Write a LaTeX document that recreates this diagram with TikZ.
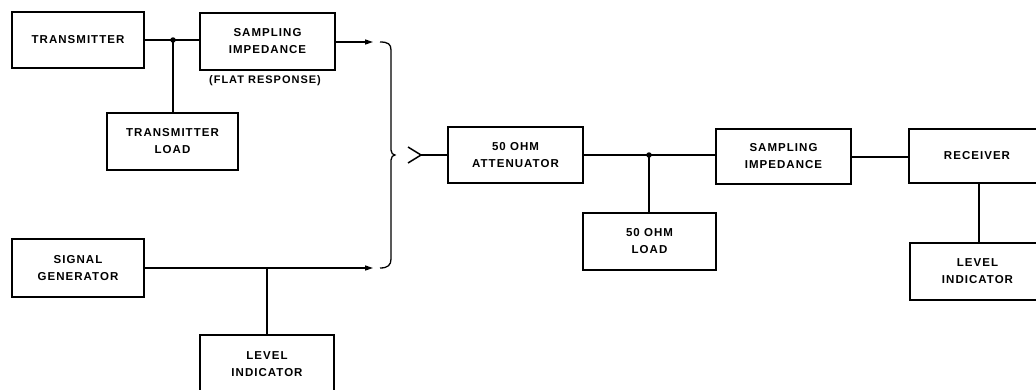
\documentclass[tikz,border=0pt]{standalone}
\usepackage{fontspec}
\setmainfont{Liberation Sans}
\newfontfamily\lblfont[LetterSpace=9]{Liberation Sans}
\usetikzlibrary{arrows.meta}
\begin{document}
\begin{tikzpicture}[x=1pt,y=-1pt,
  blk/.style={draw, line width=1.4pt, inner sep=0pt, align=center,
    font=\lblfont\bfseries\fontsize{11.5}{17}\selectfont},
  wire/.style={line width=1.4pt},
  arr/.style={wire, -{Triangle[length=8pt,width=5pt]}},
  dot/.style={circle, fill, inner sep=0pt, minimum size=5.5pt}]
\useasboundingbox (0,0) rectangle (1036,389);
% boxes
\node[blk, minimum width=132pt, minimum height=56pt] (T) at (78,40) {TRANSMITTER};
\node[blk, minimum width=135pt, minimum height=57pt] (S1) at (267.5,41.5) {SAMPLING\\IMPEDANCE};
\node[font=\lblfont\bfseries\fontsize{11}{12}\selectfont] (FR) at (265,81) {(FLAT RESPONSE)};
\node[blk, minimum width=131pt, minimum height=57pt] (TL) at (172.5,141.5) {TRANSMITTER\\LOAD};
\node[blk, minimum width=132pt, minimum height=58pt] (SG) at (78,268) {SIGNAL\\GENERATOR};
\node[blk, minimum width=134pt, minimum height=58pt] (LI1) at (267,364) {LEVEL\\INDICATOR};
\node[blk, minimum width=135pt, minimum height=56pt] (ATT) at (515.5,155) {50 OHM\\ATTENUATOR};
\node[blk, minimum width=133pt, minimum height=57pt] (LOAD) at (649.5,241.5) {50 OHM\\LOAD};
\node[blk, minimum width=135pt, minimum height=55pt] (S2) at (783.5,156.5) {SAMPLING\\IMPEDANCE};
\node[blk, minimum width=136pt, minimum height=54pt] (RX) at (977,156) {RECEIVER};
\node[blk, minimum width=135pt, minimum height=57pt] (LI2) at (977.5,271.5) {LEVEL\\INDICATOR};
% junctions and free ends
\coordinate (j1) at (173,40);
\coordinate (j2) at (267,268);
\coordinate (j3) at (649,155);
\coordinate (r1) at (0,157);
\coordinate (r2) at (979,0);
\coordinate (a1) at (373,42);
\coordinate (a2) at (373,268);
\coordinate (ch) at (421,155);
% connectors
\draw[wire] (T.east |- j1) -- (j1) -- (S1.west |- j1);
\draw[wire] (j1) -- (j1 |- TL.north);
\draw[arr] (S1.east |- a1) -- (a1);
\draw[arr] (SG.east) -- (a2);
\draw[wire] (j2) -- (j2 |- LI1.north);
% brace
\draw[line width=1.3pt] (380,42) .. controls (388,42) and (391,44) .. (391,50)
  -- (391,150) .. controls (391,153) and (393,155) .. (395,155)
  .. controls (393,155) and (391,157) .. (391,160)
  -- (391,259) .. controls (391,265) and (388,268) .. (380,268);
% chevron
\draw[line width=1.5pt] (408,147) -- (ch) -- (408,163);
\draw[wire] (ch) -- (ATT.west);
\draw[wire] (ATT.east |- j3) -- (j3) -- (S2.west |- j3);
\draw[wire] (j3) -- (j3 |- LOAD.north);
\draw[wire] (S2.east |- r1) -- (RX.west |- r1);
\draw[wire] (RX.south -| r2) -- (LI2.north -| r2);
\node[dot] at (j1) {};
\node[dot] at (j3) {};
\end{tikzpicture}
\end{document}
